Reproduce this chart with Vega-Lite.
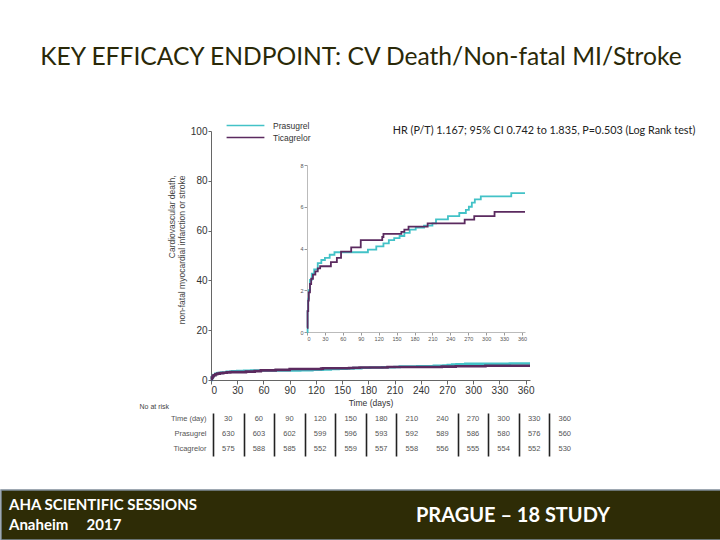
{
  "$schema": "https://vega.github.io/schema/vega-lite/v6.json",
  "description": "PRAGUE-18 key efficacy endpoint slide: Kaplan-Meier curves with inset and numbers at risk.",
  "padding": 0,
  "background": "white",
  "spacing": 0,
  "bounds": "flush",
  "config": {
    "view": {"stroke": null},
    "font": "Liberation Sans",
    "axis": {"labelFont": "Liberation Sans", "titleFont": "Liberation Sans", "grid": false},
    "legend": {"labelFont": "Liberation Sans"}
  },
  "datasets": {
    "km": [
      {"group": "Prasugrel", "day": 0, "pct": 0},
      {"group": "Prasugrel", "day": 1, "pct": 1.0},
      {"group": "Prasugrel", "day": 2, "pct": 1.6},
      {"group": "Prasugrel", "day": 3, "pct": 2.0},
      {"group": "Prasugrel", "day": 5, "pct": 2.5},
      {"group": "Prasugrel", "day": 8, "pct": 2.8},
      {"group": "Prasugrel", "day": 12, "pct": 3.0},
      {"group": "Prasugrel", "day": 18, "pct": 3.3},
      {"group": "Prasugrel", "day": 24, "pct": 3.45},
      {"group": "Prasugrel", "day": 30, "pct": 3.55},
      {"group": "Prasugrel", "day": 38, "pct": 3.7},
      {"group": "Prasugrel", "day": 46, "pct": 3.82},
      {"group": "Prasugrel", "day": 102, "pct": 3.95},
      {"group": "Prasugrel", "day": 116, "pct": 4.1},
      {"group": "Prasugrel", "day": 128, "pct": 4.25},
      {"group": "Prasugrel", "day": 137, "pct": 4.4},
      {"group": "Prasugrel", "day": 146, "pct": 4.5},
      {"group": "Prasugrel", "day": 155, "pct": 4.6},
      {"group": "Prasugrel", "day": 163, "pct": 4.75},
      {"group": "Prasugrel", "day": 172, "pct": 4.9},
      {"group": "Prasugrel", "day": 182, "pct": 5.0},
      {"group": "Prasugrel", "day": 196, "pct": 5.1},
      {"group": "Prasugrel", "day": 210, "pct": 5.2},
      {"group": "Prasugrel", "day": 216, "pct": 5.4},
      {"group": "Prasugrel", "day": 236, "pct": 5.55},
      {"group": "Prasugrel", "day": 255, "pct": 5.7},
      {"group": "Prasugrel", "day": 266, "pct": 5.85},
      {"group": "Prasugrel", "day": 271, "pct": 6.0},
      {"group": "Prasugrel", "day": 276, "pct": 6.2},
      {"group": "Prasugrel", "day": 281, "pct": 6.35},
      {"group": "Prasugrel", "day": 291, "pct": 6.5},
      {"group": "Prasugrel", "day": 342, "pct": 6.65},
      {"group": "Prasugrel", "day": 365, "pct": 6.65},
      {"group": "Ticagrelor", "day": 0, "pct": 0.2},
      {"group": "Ticagrelor", "day": 1, "pct": 1.0},
      {"group": "Ticagrelor", "day": 2, "pct": 1.5},
      {"group": "Ticagrelor", "day": 3, "pct": 1.9},
      {"group": "Ticagrelor", "day": 5, "pct": 2.3},
      {"group": "Ticagrelor", "day": 7, "pct": 2.55},
      {"group": "Ticagrelor", "day": 10, "pct": 2.75},
      {"group": "Ticagrelor", "day": 14, "pct": 2.9},
      {"group": "Ticagrelor", "day": 18, "pct": 3.05},
      {"group": "Ticagrelor", "day": 22, "pct": 3.15},
      {"group": "Ticagrelor", "day": 40, "pct": 3.35},
      {"group": "Ticagrelor", "day": 50, "pct": 3.55},
      {"group": "Ticagrelor", "day": 57, "pct": 3.85},
      {"group": "Ticagrelor", "day": 74, "pct": 4.05},
      {"group": "Ticagrelor", "day": 90, "pct": 4.4},
      {"group": "Ticagrelor", "day": 126, "pct": 4.55},
      {"group": "Ticagrelor", "day": 128, "pct": 4.7},
      {"group": "Ticagrelor", "day": 158, "pct": 4.8},
      {"group": "Ticagrelor", "day": 163, "pct": 4.9},
      {"group": "Ticagrelor", "day": 170, "pct": 5.05},
      {"group": "Ticagrelor", "day": 202, "pct": 5.2},
      {"group": "Ticagrelor", "day": 264, "pct": 5.38},
      {"group": "Ticagrelor", "day": 280, "pct": 5.55},
      {"group": "Ticagrelor", "day": 314, "pct": 5.75},
      {"group": "Ticagrelor", "day": 365, "pct": 5.75}
    ],
    "risk": [
      {"row": "Time (day)", "day": 30, "n": 30},
      {"row": "Time (day)", "day": 60, "n": 60},
      {"row": "Time (day)", "day": 90, "n": 90},
      {"row": "Time (day)", "day": 120, "n": 120},
      {"row": "Time (day)", "day": 150, "n": 150},
      {"row": "Time (day)", "day": 180, "n": 180},
      {"row": "Time (day)", "day": 210, "n": 210},
      {"row": "Time (day)", "day": 240, "n": 240},
      {"row": "Time (day)", "day": 270, "n": 270},
      {"row": "Time (day)", "day": 300, "n": 300},
      {"row": "Time (day)", "day": 330, "n": 330},
      {"row": "Time (day)", "day": 360, "n": 360},
      {"row": "Prasugrel", "day": 30, "n": 630},
      {"row": "Prasugrel", "day": 60, "n": 603},
      {"row": "Prasugrel", "day": 90, "n": 602},
      {"row": "Prasugrel", "day": 120, "n": 599},
      {"row": "Prasugrel", "day": 150, "n": 596},
      {"row": "Prasugrel", "day": 180, "n": 593},
      {"row": "Prasugrel", "day": 210, "n": 592},
      {"row": "Prasugrel", "day": 240, "n": 589},
      {"row": "Prasugrel", "day": 270, "n": 586},
      {"row": "Prasugrel", "day": 300, "n": 580},
      {"row": "Prasugrel", "day": 330, "n": 576},
      {"row": "Prasugrel", "day": 360, "n": 560},
      {"row": "Ticagrelor", "day": 30, "n": 575},
      {"row": "Ticagrelor", "day": 60, "n": 588},
      {"row": "Ticagrelor", "day": 90, "n": 585},
      {"row": "Ticagrelor", "day": 120, "n": 552},
      {"row": "Ticagrelor", "day": 150, "n": 559},
      {"row": "Ticagrelor", "day": 180, "n": 557},
      {"row": "Ticagrelor", "day": 210, "n": 558},
      {"row": "Ticagrelor", "day": 240, "n": 556},
      {"row": "Ticagrelor", "day": 270, "n": 555},
      {"row": "Ticagrelor", "day": 300, "n": 554},
      {"row": "Ticagrelor", "day": 330, "n": 552},
      {"row": "Ticagrelor", "day": 360, "n": 530}
    ]
  },
  "vconcat": [
    {
      "width": 720,
      "height": 490,
      "title": {
        "text": "KEY EFFICACY ENDPOINT: CV Death/Non-fatal MI/Stroke",
        "font": "Lato",
        "fontSize": 24.6,
        "fontWeight": "normal",
        "color": "#2a2908",
        "anchor": "middle",
        "offset": -71
      },
      "layer": [
        {
          "layer": [
            {
              "data": {"name": "km"},
              "mark": {"type": "line", "interpolate": "step-after", "strokeWidth": 2.6},
              "encoding": {
                "x": {
                  "field": "day",
                  "type": "quantitative",
                  "scale": {"domain": [0, 365], "range": [210, 529], "nice": false, "zero": false},
                  "axis": {
                    "orient": "bottom",
                    "offset": -110,
                    "values": [0, 30, 60, 90, 120, 150, 180, 210, 240, 270, 300, 330, 360],
                    "title": "Time (days)",
                    "titleFontSize": 8.5,
                    "titleFontWeight": "normal",
                    "titleColor": "#333",
                    "titlePadding": 3,
                    "labelFontSize": 10,
                    "labelColor": "#333",
                    "labelPadding": 1,
                    "tickSize": 4,
                    "tickColor": "#666",
                    "domainColor": "#666"
                  }
                },
                "y": {
                  "field": "pct",
                  "type": "quantitative",
                  "scale": {"domain": [0, 100], "range": [380, 131], "nice": false},
                  "axis": {
                    "orient": "left",
                    "offset": -210,
                    "values": [0, 20, 40, 60, 80, 100],
                    "title": ["Cardiovascular death,", "non-fatal myocardial infarction or stroke"],
                    "titleFontSize": 8.5,
                    "titleFontWeight": "normal",
                    "titleColor": "#444",
                    "titleAlign": "right",
                    "titleY": 175,
                    "titlePadding": 4,
                    "titleLineHeight": 10,
                    "labelFontSize": 10,
                    "labelColor": "#333",
                    "labelPadding": 1,
                    "tickSize": 3,
                    "tickColor": "#666",
                    "domainColor": "#666"
                  }
                },
                "color": {
                  "field": "group",
                  "type": "nominal",
                  "scale": {"domain": ["Prasugrel", "Ticagrelor"], "range": ["#43c2c7", "#5b2a5f"]},
                  "legend": {
                    "orient": "none",
                    "legendX": 239,
                    "legendY": 120,
                    "title": null,
                    "padding": 0,
                    "symbolType": "M-4.2,0H4.2",
                    "symbolSize": 81,
                    "symbolStrokeWidth": 1.5,
                    "labelFontSize": 8.5,
                    "labelColor": "#333",
                    "labelOffset": 22,
                    "rowPadding": 2
                  }
                }
              }
            },
            {
              "data": {"values": [{"label": "HR (P/T) 1.167; 95% CI 0.742 to 1.835, P=0.503 (Log Rank test)"}]},
              "mark": {"type": "text", "align": "left", "baseline": "middle", "font": "Lato", "fontSize": 10.8, "color": "#222"},
              "encoding": {
                "x": {"datum": 208},
                "y": {"datum": 100},
                "text": {"field": "label", "type": "nominal"}
              }
            }
          ]
        },
        {
          "data": {"name": "km"},
          "mark": {"type": "line", "interpolate": "step-after", "strokeWidth": 1.8},
          "encoding": {
            "x": {
              "field": "day",
              "type": "quantitative",
              "scale": {"domain": [0, 365], "range": [306, 524], "nice": false, "zero": false},
              "axis": {
                "orient": "bottom",
                "offset": -158,
                "values": [0, 30, 60, 90, 120, 150, 180, 210, 240, 270, 300, 330, 360],
                "title": null,
                "labelFontSize": 5.5,
                "labelColor": "#555",
                "labelPadding": 1,
                "tickSize": 3,
                "tickColor": "#999",
                "domainColor": "#bbb"
              }
            },
            "y": {
              "field": "pct",
              "type": "quantitative",
              "scale": {"domain": [0, 8], "range": [332, 165], "nice": false},
              "axis": {
                "orient": "left",
                "offset": -306,
                "values": [0, 2, 4, 6, 8],
                "title": null,
                "labelFontSize": 5.5,
                "labelColor": "#555",
                "labelPadding": 1,
                "tickSize": 3,
                "tickColor": "#999",
                "domainColor": "#bbb"
              }
            },
            "color": {"field": "group", "type": "nominal"}
          }
        },
        {
          "data": {"name": "risk"},
          "mark": {"type": "text", "fontSize": 7.5, "color": "#555", "baseline": "middle"},
          "encoding": {
            "x": {
              "field": "day",
              "type": "ordinal",
              "scale": {
                "type": "band",
                "domain": [30, 60, 90, 120, 150, 180, 210, 240, 270, 300, 330, 360],
                "range": [212, 579],
                "paddingInner": 0,
                "paddingOuter": 0
              },
              "axis": {
                "orient": "bottom",
                "offset": -34,
                "labels": false,
                "ticks": true,
                "tickSize": -43,
                "tickWidth": 1.6,
                "tickColor": "#222",
                "tickBand": "extent",
                "tickOpacity": {"condition": {"test": "datum.value === 210 || datum.index === 1", "value": 0}, "value": 1},
                "domain": false,
                "title": null,
                "grid": false
              }
            },
            "y": {
              "field": "row",
              "type": "nominal",
              "scale": {"type": "band", "domain": ["Time (day)", "Prasugrel", "Ticagrelor"], "range": [411, 456]},
              "axis": {
                "orient": "left",
                "offset": -212,
                "domain": false,
                "ticks": false,
                "labelPadding": 7,
                "labelFontSize": 7.5,
                "labelColor": "#555",
                "title": "No at risk",
                "titleAngle": 0,
                "titleX": -74,
                "titleY": 409,
                "titleAlign": "left",
                "titleBaseline": "bottom",
                "titleFontSize": 7,
                "titleFontWeight": "normal",
                "titleColor": "#444"
              }
            },
            "text": {"field": "n", "type": "quantitative", "format": "d"}
          }
        }
      ],
      "resolve": {
        "scale": {"x": "independent", "y": "independent"},
        "axis": {"x": "independent", "y": "independent"}
      }
    },
    {
      "width": 720,
      "height": 50,
      "view": {"fill": "#2e2c06", "stroke": "#7f8c99", "strokeWidth": 1.5},
      "layer": [
        {
          "data": {"values": [{"label": "banner"}]},
          "mark": {
            "type": "text",
            "text": ["AHA SCIENTIFIC SESSIONS", "Anaheim\u00a0\u00a0\u00a0\u00a0\u00a02017"],
            "align": "left",
            "baseline": "middle",
            "lineHeight": 20,
            "dx": -352,
            "dy": -10,
            "font": "Lato",
            "fontWeight": "bold",
            "fontSize": 15,
            "color": "white"
          }
        },
        {
          "data": {"values": [{"label": "PRAGUE \u2013 18 STUDY"}]},
          "mark": {
            "type": "text",
            "align": "center",
            "baseline": "middle",
            "dx": 152,
            "dy": 1,
            "font": "Lato",
            "fontWeight": "bold",
            "fontSize": 20,
            "color": "white"
          },
          "encoding": {"text": {"field": "label", "type": "nominal"}}
        }
      ]
    }
  ]
}
